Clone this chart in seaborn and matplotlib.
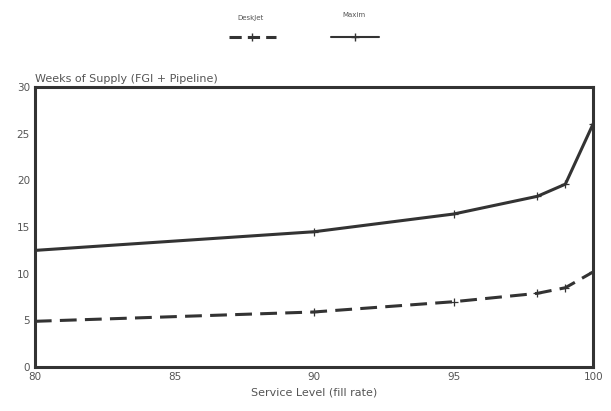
import numpy as np
import pandas as pd
import matplotlib.pyplot as plt
import seaborn as sns
from matplotlib.lines import Line2D

# values
service_level = [80, 90, 95, 98, 99, 100]
deskjet_weeks = [4.9, 5.9, 7.0, 7.9, 8.5, 10.2]
maxim_weeks = [12.5, 14.5, 16.4, 18.3, 19.6, 26.1]

df = pd.DataFrame({
    "service": service_level * 2,
    "weeks": deskjet_weeks + maxim_weeks,
    "product": ["DeskJet"] * len(service_level) + ["Maxim"] * len(service_level),
})

sns.set_style("white")
plt.rcParams['font.family'] = ['DejaVu Sans']
ink = "#333333"
txt = "#555555"

fig = plt.figure(figsize=(6.11, 4.11), dpi=100)
ax = fig.add_axes([0.057, 0.107, 0.914, 0.681])

sns.lineplot(data=df, x="service", y="weeks", hue="product", style="product",
             palette={"DeskJet": ink, "Maxim": ink},
             dashes={"DeskJet": (5.5, 2.7), "Maxim": ""},
             markers={"DeskJet": "+", "Maxim": "+"}, markersize=6,
             markeredgecolor=ink, markeredgewidth=0.9,
             linewidth=2.2, legend=False, ax=ax)

ax.set_xlim(80, 100)
ax.set_ylim(0, 30)
ax.set_xticks([80, 85, 90, 95, 100])
ax.set_yticks([0, 5, 10, 15, 20, 25, 30])
ax.tick_params(direction="in", length=3, colors=ink, labelcolor=txt, labelsize=7.5)
for s in ax.spines.values():
    s.set_linewidth(2.2)
    s.set_color(ink)
ax.set_xlabel("Service Level (fill rate)", color=txt, fontsize=8)
ax.set_ylabel("")
ax.text(0.0, 1.01, "Weeks of Supply (FGI + Pipeline)", transform=ax.transAxes,
        ha="left", va="bottom", color=txt, fontsize=8)

# legend: label above each line sample
handles = [Line2D([], [], color=ink, lw=2.2, dashes=(4, 2), marker="+", mec=ink, ms=6),
           Line2D([], [], color=ink, lw=1.5, marker="+", mec=ink, ms=6)]
fig.legend(handles, ["", ""], ncol=2, frameon=False, loc="center",
           bbox_to_anchor=(0.497, 0.907), handlelength=3.4, columnspacing=4,
           handletextpad=0)
fig.text(0.41, 0.952, "DeskJet", fontsize=5, color=txt, ha="center")
fig.text(0.58, 0.958, "Maxim", fontsize=5, color=txt, ha="center")

fig.savefig("out.png", dpi=100)
